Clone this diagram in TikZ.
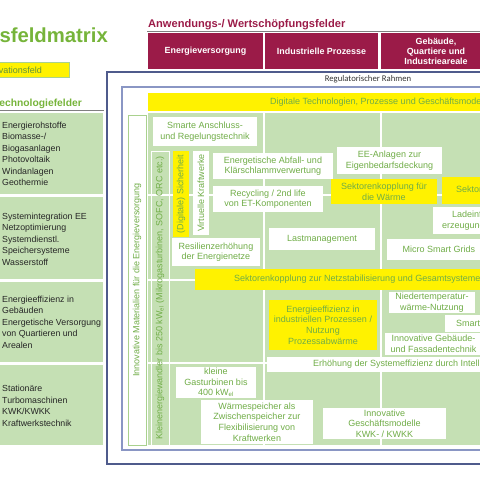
\documentclass[tikz,border=0pt]{standalone}
\usepackage{fontspec}
\setmainfont{Liberation Sans}
\newfontfamily\calibrifont{Carlito}
\usepackage{tikz}

\definecolor{cellgreen}{HTML}{C5E0B4}
\definecolor{txtgreen}{HTML}{70AD47}
\definecolor{titlegreen}{HTML}{76B43A}
\definecolor{crimson}{HTML}{9B1B48}
\definecolor{frameblue}{HTML}{4F5B8C}
\definecolor{innerblue}{HTML}{8A96C4}
\definecolor{edgegreen}{HTML}{A9D18E}

\newcommand{\cellfont}{\fontsize{9}{10.6}\selectfont}
\newcommand{\tffont}{\fontsize{8.8}{11.5}\selectfont}

\tikzstyle{wbox} = [rectangle, fill=white, text=txtgreen, font=\cellfont, align=center, inner sep=0pt]
\tikzstyle{ybox} = [rectangle, fill=yellow, text=txtgreen, font=\cellfont, align=center, inner sep=0pt]
\tikzstyle{tfbox} = [rectangle, fill=cellgreen, minimum width=108, inner sep=0pt]
\tikzstyle{tftext} = [anchor=west, align=left, font=\tffont, text=black!85, inner sep=0pt]
\tikzstyle{awbox} = [rectangle, fill=crimson, text=white, font=\bfseries\fontsize{8.9}{10}\selectfont, align=center, minimum height=36, inner sep=0pt]
\tikzstyle{gridline} = [white, line width=2pt]

\begin{document}
\begin{tikzpicture}[x=1pt, y=-1pt]
	\useasboundingbox (0,0) rectangle (480,480);
	\clip (0,0) rectangle (480,480);

	% titles
	\node (title) [anchor=base east, inner sep=0pt, text=titlegreen, font=\bfseries\fontsize{20.3}{24}\selectfont] at (108,42) {Innovationsfeldmatrix};
	\node (innofeld) [rectangle, fill=yellow, draw=edgegreen, minimum width=74, minimum height=15] at (32,69.5) {};
	\node (innotext) [anchor=base east, inner sep=0pt, text=txtgreen!85!black, font=\cellfont] at (42,73) {Innovationsfeld};
	\node (tfhead) [anchor=base east, inner sep=0pt, text=titlegreen, font=\bfseries\fontsize{10.3}{12}\selectfont] at (82,106) {Technologiefelder};
	\draw [black!50, line width=1pt] (0,110) -- (104,110);
	\node (awhead) [anchor=base west, inner sep=0pt, text=crimson, font=\bfseries\fontsize{11.1}{13}\selectfont] at (148,27) {Anwendungs-/ Wertschöpfungsfelder};
	\draw [black!50, line width=1pt] (147,31) -- (480,31);

	% Anwendungsfelder
	\node (aw1) [awbox, minimum width=115] at (205.5,51) {Energieversorgung};
	\node (aw2) [awbox, minimum width=113] at (321.5,51) {Industrielle Prozesse};
	\node (aw3) [awbox, minimum width=110] at (436,51) {Gebäude,\\Quartiere und\\Industrieareale};

	% Technologiefelder
	\node (tf1) [tfbox, minimum height=81] at (49,153.5) {};
	\node (tf2) [tfbox, minimum height=82] at (49,238) {};
	\node (tf3) [tfbox, minimum height=80] at (49,322) {};
	\node (tf4) [tfbox, minimum height=80] at (49,405) {};
	\node (tf1text) [tftext] at (2,154) {Energierohstoffe\\Biomasse-/\\Biogasanlagen\\Photovoltaik\\Windanlagen\\Geothermie};
	\node (tf2text) [tftext] at (2,239) {Systemintegration EE\\Netzoptimierung\\Systemdienstl.\\Speichersysteme\\Wasserstoff};
	\node (tf3text) [tftext] at (2,322) {Energieeffizienz in\\Gebäuden\\Energetische Versorgung\\von Quartieren und\\Arealen};
	\node (tf4text) [tftext] at (2,406) {Stationäre\\Turbomaschinen\\KWK/KWKK\\Kraftwerkstechnik};

	% Rahmen
	\draw [frameblue, line width=1.2pt] (107,72) rectangle (540,464);
	\draw [innerblue, line width=1.2pt] (122,87) rectangle (540,450);
	\node (regrahmen) [text=black!80, font=\calibrifont\fontsize{8.7}{10}\selectfont, inner sep=0pt] at (368,79.5) {Regulatorischer Rahmen};

	% Matrix
	\fill [cellgreen] (148,113) rectangle (540,445);
	\draw [gridline] (264,113) -- (264,445);
	\draw [gridline] (381,113) -- (381,445);
	\draw [gridline] (148,195) -- (540,195);
	\draw [gridline] (148,280) -- (540,280);
	\draw [gridline] (148,363) -- (540,363);

	\node (digital) [ybox, anchor=west, minimum height=18, inner xsep=122pt] at (148,102) {Digitale Technologien, Prozesse und Geschäftsmodelle};
	\node (materialien) [wbox, draw=edgegreen, rotate=90, minimum width=330, minimum height=18] at (137,280) {Innovative Materialien für die Energieversorgung};
	\node (klein) [rectangle, draw=white, line width=1pt, rotate=90, minimum width=294, minimum height=18, text=txtgreen, font=\cellfont, inner sep=0pt] at (160,298) {Kleinenergiewandler bis 250 kW\textsubscript{el} (Mikrogasturbinen, SOFC, ORC etc.)};
	\node (smarte) [wbox, minimum width=104, minimum height=29] at (205,131.5) {Smarte Anschluss-\\und Regelungstechnik};
	\node (sicherheit) [ybox, rotate=90, minimum width=86, minimum height=16] at (181,194) {(Digitale) Sicherheit};
	\node (virtuell) [wbox, rotate=90, minimum width=84, minimum height=16] at (201,193) {Virtuelle Kraftwerke};
	\node (abfall) [wbox, minimum width=120, minimum height=26] at (273,166) {Energetische Abfall- und\\Klärschlammverwertung};
	\node (recycling) [wbox, minimum width=110, minimum height=26] at (268,199) {Recycling / 2nd life\\von ET-Komponenten};
	\node (eeanlagen) [wbox, minimum width=105, minimum height=27] at (389.5,160.5) {EE-Anlagen zur\\Eigenbedarfsdeckung};
	\node (waerme) [ybox, minimum width=106, minimum height=25] at (384,191.5) {Sektorenkopplung für\\die Wärme};
	\node (sektor) [ybox, anchor=west, minimum height=27, inner xsep=14pt] at (442,190.5) {Sektorenkopplung};
	\node (ladeinf) [wbox, anchor=west, align=left, minimum height=27, inner xsep=9pt] at (433,220.5) {\hspace*{10pt}Ladeinfrastruktur\\erzeugung};
	\node (resilienz) [wbox, minimum width=88, minimum height=28] at (216,252) {Resilienzerhöhung\\der Energienetze};
	\node (last) [wbox, minimum width=106, minimum height=22] at (322,239) {Lastmanagement};
	\node (micro) [wbox, minimum width=104, minimum height=21] at (439,249.5) {Micro Smart Grids};
	\node (netzstab) [ybox, anchor=west, minimum height=21, inner xsep=39pt] at (195,279.5) {Sektorenkopplung zur Netzstabilisierung und Gesamtsystemeffizienz};
	\node (niedertemp) [wbox, minimum width=86, minimum height=21] at (432,302.5) {Niedertemperatur-\\wärme-Nutzung};
	\node (effizienz) [ybox, minimum width=108, minimum height=50] at (323,325) {Energieeffizienz in\\industriellen Prozessen /\\Nutzung\\Prozessabwärme};
	\node (smart) [wbox, anchor=west, minimum height=17, inner xsep=11pt] at (445,323.5) {Smart};
	\node (fassade) [wbox, minimum width=97, minimum height=22] at (433.5,344) {Innovative Gebäude-\\und Fassadentechnik};
	\node (erhoehung) [wbox, anchor=west, minimum height=15, inner xsep=46pt] at (267,364.5) {Erhöhung der Systemeffizienz durch Intelligenz};
	\node (gasturbinen) [wbox, minimum width=80, minimum height=31] at (216,382.5) {kleine\\Gasturbinen bis\\400 kW\textsubscript{el}};
	\node (speicher) [wbox, minimum width=112, minimum height=44] at (257,422) {Wärmespeicher als\\Zwischenspeicher zur\\Flexibilisierung von\\Kraftwerken};
	\node (geschaeft) [wbox, minimum width=123, minimum height=31] at (384.5,423.5) {Innovative\\Geschäftsmodelle\\KWK- / KWKK};
\end{tikzpicture}
\end{document}
